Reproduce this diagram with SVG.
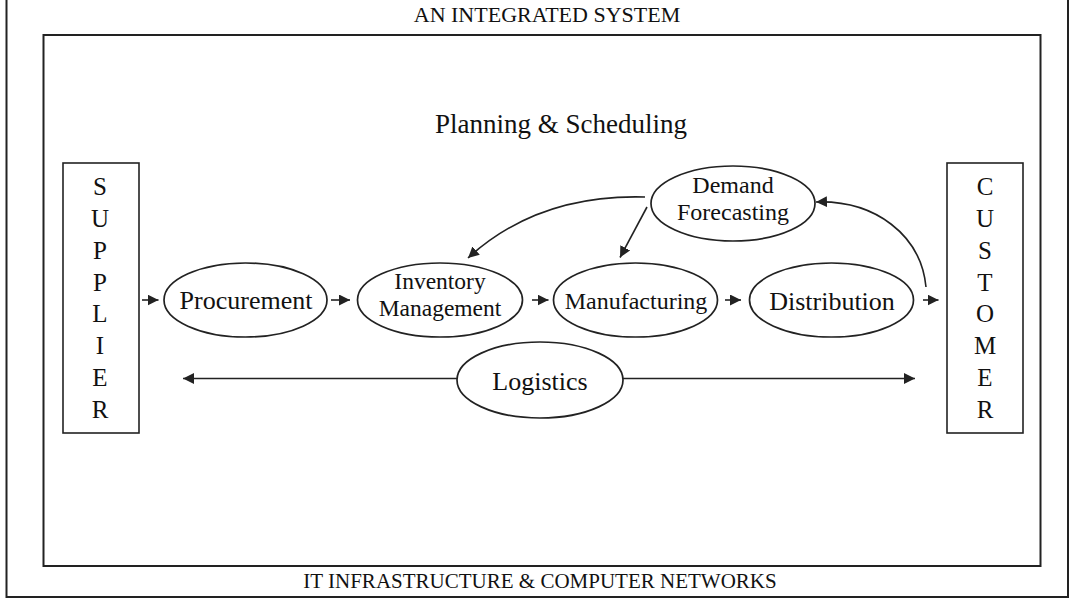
<svg xmlns="http://www.w3.org/2000/svg" width="1071" height="598" viewBox="0 0 1071 598">
<style>
text{font-family:"Liberation Serif","Times New Roman",serif;fill:#111;}
.frame{fill:none;stroke:#222;stroke-width:2;}
.box{fill:#fff;stroke:#222;stroke-width:1.6;}
.ell{fill:#fff;stroke:#222;stroke-width:1.7;}
.conn{fill:none;stroke:#222;stroke-width:1.6;}
.letter{font-size:25px;text-anchor:middle;}
.lbl{text-anchor:middle;}
</style>
<defs>
<marker id="ah" viewBox="0 0 10 10" refX="10" refY="5" markerWidth="11" markerHeight="11" markerUnits="userSpaceOnUse" orient="auto-start-reverse">
<path d="M0,0 L10,5 L0,10 z" fill="#222"/>
</marker>
</defs>
<rect width="1071" height="598" fill="#fff"/>
<g id="outer-frame">
<rect class="frame" x="6.5" y="-5" width="1061.5" height="602"/>
<text x="547" y="22" font-size="22" text-anchor="middle">AN INTEGRATED SYSTEM</text>
<text x="540" y="588" font-size="21" text-anchor="middle">IT INFRASTRUCTURE &amp; COMPUTER NETWORKS</text>
</g>
<g id="inner-frame">
<rect class="frame" x="43.5" y="35" width="997" height="531"/>
<text x="561" y="133" font-size="27" text-anchor="middle">Planning &amp; Scheduling</text>
</g>
<g id="supplier">
<rect class="box" x="63" y="163" width="76" height="270"/>
<text class="letter" x="100" y="195">S</text>
<text class="letter" x="100" y="227">U</text>
<text class="letter" x="100" y="259">P</text>
<text class="letter" x="100" y="291">P</text>
<text class="letter" x="100" y="322">L</text>
<text class="letter" x="100" y="354">I</text>
<text class="letter" x="100" y="386">E</text>
<text class="letter" x="100" y="418">R</text>
</g>
<g id="customer">
<rect class="box" x="947" y="163" width="76" height="270"/>
<text class="letter" x="985" y="195">C</text>
<text class="letter" x="985" y="227">U</text>
<text class="letter" x="985" y="259">S</text>
<text class="letter" x="985" y="291">T</text>
<text class="letter" x="985" y="322">O</text>
<text class="letter" x="985" y="354">M</text>
<text class="letter" x="985" y="386">E</text>
<text class="letter" x="985" y="418">R</text>
</g>
<g id="procurement">
<ellipse class="ell" cx="245.5" cy="300" rx="81.5" ry="37"/>
<text class="lbl" x="246" y="309" font-size="26">Procurement</text>
</g>
<g id="inventory">
<ellipse class="ell" cx="440" cy="300" rx="82.5" ry="37"/>
<text class="lbl" x="440" y="289" font-size="23.5">Inventory</text>
<text class="lbl" x="440" y="316" font-size="23.5">Management</text>
</g>
<g id="manufacturing">
<ellipse class="ell" cx="635.5" cy="300" rx="82" ry="37"/>
<text class="lbl" x="636" y="309" font-size="24">Manufacturing</text>
</g>
<g id="distribution">
<ellipse class="ell" cx="831.5" cy="300" rx="82" ry="37"/>
<text class="lbl" x="832" y="310" font-size="26">Distribution</text>
</g>
<g id="demand-forecasting">
<ellipse class="ell" cx="733" cy="203.5" rx="82" ry="37.5"/>
<text class="lbl" x="733" y="193" font-size="24">Demand</text>
<text class="lbl" x="733" y="220" font-size="24">Forecasting</text>
</g>
<g id="logistics">
<ellipse class="ell" cx="540" cy="380" rx="83" ry="38"/>
<text class="lbl" x="540" y="390" font-size="26">Logistics</text>
</g>
<g id="connectors">
<line class="conn" x1="142" y1="300" x2="158.5" y2="300" marker-end="url(#ah)"/>
<line class="conn" x1="331" y1="300" x2="350" y2="300" marker-end="url(#ah)"/>
<line class="conn" x1="532" y1="300" x2="548.5" y2="300" marker-end="url(#ah)"/>
<line class="conn" x1="725" y1="300" x2="741" y2="300" marker-end="url(#ah)"/>
<line class="conn" x1="923" y1="300" x2="938.5" y2="300" marker-end="url(#ah)"/>
<path class="conn" d="M645,197 C575,195 515,215 468,258" marker-end="url(#ah)"/>
<line class="conn" x1="647" y1="207" x2="620" y2="257.5" marker-end="url(#ah)"/>
<path class="conn" d="M926,287 C921,235 875,200 816,202" marker-end="url(#ah)"/>
<line class="conn" x1="457" y1="378.5" x2="183" y2="378.5" marker-end="url(#ah)"/>
<line class="conn" x1="623" y1="378.5" x2="915" y2="378.5" marker-end="url(#ah)"/>
</g>
</svg>
